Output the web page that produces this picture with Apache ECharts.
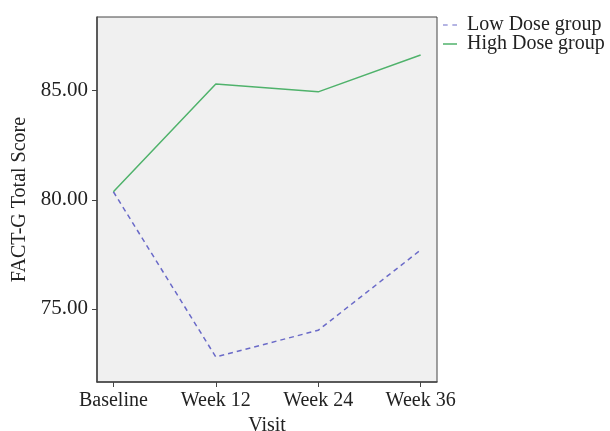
<!DOCTYPE html>
<html>
<head>
<meta charset="utf-8">
<script src="https://cdn.jsdelivr.net/npm/echarts@6/dist/echarts.min.js"></script>
<style>
  html, body { margin: 0; padding: 0; background: #fff; }
  #chart { width: 610px; height: 431px; }
</style>
</head>
<body>
<div id="chart"></div>
<script>
const visits = ['Baseline', 'Week 12', 'Week 24', 'Week 36'];
const lowDose = [80.37, 72.80, 74.02, 77.70];
const highDose = [80.37, 85.31, 84.95, 86.64];
const yTicks = [75, 80, 85];

const chart = echarts.init(document.getElementById('chart'));

const toPairs = (arr) => arr.map((v, i) => [i, v]);
const font = 'Liberation Serif';
const lowColor = '#6a6ac8';
const highColor = '#4fb26b';

const option = {
  animation: false,
  textStyle: { fontFamily: font },
  legend: {
    orient: 'vertical',
    left: 438,
    top: 10,
    itemWidth: 14,
    itemHeight: 1.5,
    itemGap: -1,
    itemStyle: { borderWidth: 0 },
    textStyle: { fontFamily: font, fontSize: 20, color: '#222', padding: [0, 0, 0, 5] },
    data: [
      { name: 'Low Dose group', icon: 'path://M0,0h4v1h-4z M8,0h4v1h-4z', itemStyle: { color: lowColor } },
      { name: 'High Dose group', icon: 'rect', itemStyle: { color: highColor } }
    ]
  },
  grid: {
    left: 97,
    top: 17,
    right: 173,
    bottom: 49,
    outerBoundsMode: 'none',
    show: true,
    backgroundColor: '#f0f0f0',
    borderColor: '#444',
    borderWidth: 1
  },
  xAxis: {
    type: 'value',
    min: -0.16,
    max: 3.16,
    name: 'Visit',
    nameLocation: 'middle',
    nameGap: 29,
    nameTextStyle: { fontFamily: font, fontSize: 20, color: '#222' },
    axisLine: { show: true, onZero: false, lineStyle: { color: '#444', width: 1.5 } },
    axisTick: { show: true, length: 5, customValues: [0, 1, 2, 3], lineStyle: { color: '#444' } },
    axisLabel: {
      customValues: [0, 1, 2, 3],
      formatter: (v) => visits[Math.round(v)],
      fontFamily: font,
      fontSize: 20,
      color: '#222',
      margin: 9
    },
    splitLine: { show: false }
  },
  yAxis: {
    type: 'value',
    min: 71.65,
    max: 88.38,
    name: 'FACT-G Total Score',
    nameLocation: 'middle',
    nameGap: 66,
    nameTextStyle: { fontFamily: font, fontSize: 20, color: '#222' },
    axisLine: { show: true, onZero: false, lineStyle: { color: '#444', width: 1.5 } },
    axisTick: { show: true, length: 5, customValues: yTicks, lineStyle: { color: '#444' } },
    axisLabel: {
      customValues: yTicks,
      formatter: (v) => v.toFixed(2),
      fontFamily: font,
      fontSize: 21,
      color: '#222',
      margin: 9
    },
    splitLine: { show: false }
  },
  series: [
    {
      name: 'Low Dose group',
      type: 'line',
      data: toPairs(lowDose),
      symbol: 'none',
      lineStyle: { color: lowColor, width: 1.5, type: [5, 4] },
      itemStyle: { color: lowColor }
    },
    {
      name: 'High Dose group',
      type: 'line',
      data: toPairs(highDose),
      symbol: 'none',
      lineStyle: { color: highColor, width: 1.5 },
      itemStyle: { color: highColor }
    }
  ]
};

chart.setOption(option);
</script>
</body>
</html>
